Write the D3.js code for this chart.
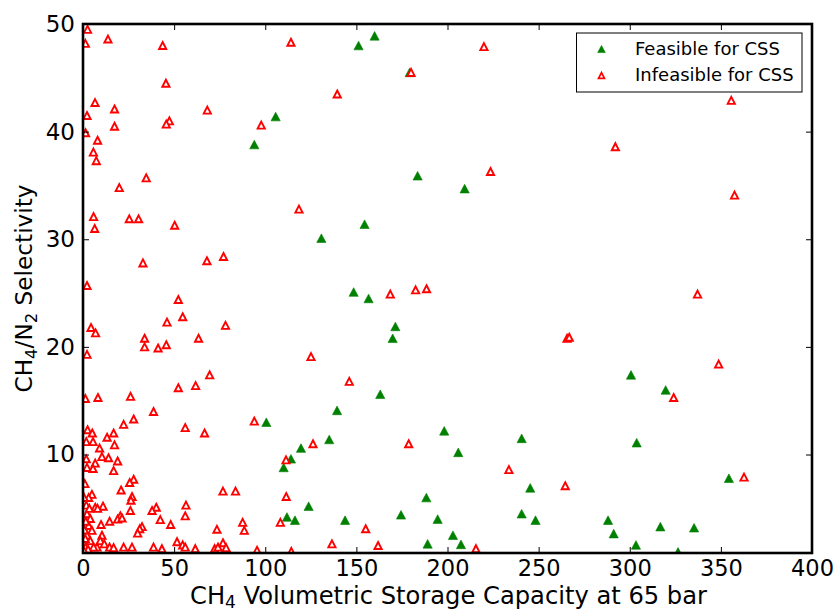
<!DOCTYPE html>
<html>
<head>
<meta charset="utf-8">
<script src="https://cdn.jsdelivr.net/npm/d3@7"></script>
<style>
  body { margin: 0; background: #fff; }
  svg { display: block; }
  text { font-family: "DejaVu Sans", sans-serif; fill: #000; }
</style>
</head>
<body>
<svg id="chart" width="837" height="612"></svg>
<script>
// Materials that are feasible for CSS: [volumetric capacity, selectivity]
const feasible = [
  [94.0, 38.8], [105.7, 41.4], [160.0, 48.9], [151.2, 48.0], [179.2, 45.5],
  [183.6, 35.9], [209.4, 34.7], [154.5, 31.4], [130.8, 30.1], [148.5, 25.1],
  [156.7, 24.5], [171.4, 21.9], [169.9, 20.8], [163.1, 15.6], [139.4, 14.1],
  [100.6, 13.0], [135.1, 11.4], [119.6, 10.6], [114.1, 9.6], [110.1, 8.8],
  [198.2, 12.2], [205.9, 10.2], [240.7, 11.5], [245.4, 6.9], [123.8, 5.2],
  [111.9, 4.2], [116.3, 3.9], [143.8, 3.9], [174.5, 4.4], [188.4, 6.0],
  [194.6, 4.0], [203.0, 2.5], [207.4, 1.65], [189.1, 1.7], [240.7, 4.5],
  [248.3, 3.9], [300.7, 17.4], [319.7, 16.0], [303.8, 11.1], [354.4, 7.8],
  [288.1, 3.9], [291.2, 2.65], [303.4, 1.6], [316.8, 3.3], [335.3, 3.2],
  [326.5, 0.95]
];

// Materials that are infeasible for CSS
const infeasible = [
  [2.5, 49.5], [1.3, 48.2], [13.7, 48.6], [43.7, 48.0], [45.5, 44.5],
  [6.6, 42.7], [17.3, 42.1], [68.2, 42.0], [2.2, 41.5], [47.4, 41.0],
  [45.7, 40.7], [17.3, 40.5], [97.8, 40.6], [1.4, 39.9], [8.0, 39.2],
  [5.7, 38.1], [7.3, 37.3], [34.7, 35.7], [19.9, 34.8],
  [114.1, 48.3], [220.0, 47.9], [180.0, 45.5], [139.5, 43.5], [223.6, 36.3], [118.5, 32.8],
  [5.8, 32.1], [6.4, 31.0], [25.4, 31.9], [30.5, 31.9], [50.3, 31.3],
  [32.9, 27.8], [68.0, 28.0], [77.1, 28.4], [2.2, 25.7], [52.3, 24.4],
  [46.1, 22.3], [54.7, 22.8], [78.2, 22.0], [4.4, 21.8], [6.9, 21.3],
  [33.8, 20.8], [33.8, 20.0], [41.2, 19.9], [45.7, 20.2], [63.4, 20.8],
  [2.2, 19.3], [69.5, 17.4], [61.8, 16.4], [52.3, 16.2], [1.3, 15.2],
  [8.2, 15.3], [26.1, 15.4],
  [168.6, 24.9], [182.5, 25.3], [188.5, 25.4], [125.1, 19.1], [146.1, 16.8],
  [265.6, 20.8], [266.8, 20.9],
  [355.7, 42.9], [292.1, 38.6], [357.5, 34.1], [337.2, 24.9], [348.8, 18.4], [324.1, 15.3],
  [126.2, 11.0], [111.4, 9.5], [178.7, 11.0], [233.7, 8.6], [111.5, 6.1],
  [108.3, 3.7], [155.1, 3.1], [136.6, 1.7], [161.9, 1.55], [215.6, 1.25],
  [114.3, 1.0], [362.7, 7.9], [264.6, 7.1],
  [56.1, 12.5], [66.7, 12.0], [94.0, 13.1], [76.8, 6.6], [83.7, 6.6],
  [56.5, 5.3], [56.1, 4.3], [48.1, 3.5], [73.5, 3.05], [87.6, 3.7],
  [88.5, 2.95], [51.6, 1.9], [54.7, 1.6], [56.1, 1.4], [61.6, 1.25],
  [72.2, 1.25], [74.1, 1.4], [76.8, 1.8], [78.5, 1.35], [95.5, 1.1],
  [38.7, 14.0], [27.8, 13.3], [22.3, 12.8], [2.5, 12.3], [5.1, 12.0],
  [13.2, 11.6], [16.8, 12.0], [1.8, 11.2], [5.5, 11.2], [17.3, 10.9],
  [9.1, 10.6], [1.8, 9.6], [10.4, 9.8], [14.0, 9.7], [19.0, 9.4],
  [6.7, 9.2], [2.2, 8.8], [5.5, 8.7], [16.8, 8.5], [27.8, 7.7],
  [25.6, 7.4], [20.9, 6.7], [4.9, 6.3], [3.1, 6.0], [26.9, 6.1],
  [26.3, 5.75], [1.8, 5.3], [6.7, 5.1], [11.0, 5.2], [8.0, 5.0],
  [26.0, 4.8], [40.2, 5.1], [37.9, 4.8], [20.5, 4.3], [19.0, 4.0],
  [14.6, 3.8], [21.4, 4.1], [42.4, 3.95], [32.4, 3.3], [31.1, 3.1],
  [30.0, 2.7], [9.9, 3.5], [2.2, 4.5], [4.0, 4.05], [3.1, 3.4],
  [4.9, 2.95], [2.2, 2.5], [4.0, 2.0], [1.3, 1.4], [10.4, 2.5],
  [9.5, 2.0], [11.7, 1.7], [7.7, 1.4], [14.6, 1.4], [16.8, 1.35],
  [22.3, 1.4], [26.9, 1.4], [38.7, 1.4], [43.3, 1.25], [5.8, 1.4],
  [1.0, 7.3], [0.8, 3.0], [1.5, 3.8], [2.8, 1.2], [0.5, 1.1],
  [3.5, 5.0], [0.6, 6.0], [1.2, 2.2]
];

const xTicks = [0, 50, 100, 150, 200, 250, 300, 350, 400];
const yTicks = [10, 20, 30, 40, 50];
const xDomain = [0, 400];
const yDomain = [0.85, 50];
const legendLabels = ["Feasible for CSS", "Infeasible for CSS"];

const GREEN = "#008000";
const RED = "#ff0000";

const plot = { left: 83, right: 812, top: 24, bottom: 553 };
const svg = d3.select("#chart");

const x = d3.scaleLinear().domain(xDomain).range([plot.left, plot.right]);
const y = d3.scaleLinear().domain(yDomain).range([plot.bottom, plot.top]);

// upward triangle centred on its bounding box
const tri = (w, h) => `M0,${-h}L${w},${h}L${-w},${h}Z`;

svg.append("defs").append("clipPath").attr("id", "plot-clip")
  .append("rect")
  .attr("x", plot.left).attr("y", plot.top)
  .attr("width", plot.right - plot.left).attr("height", plot.bottom - plot.top);

const marks = svg.append("g").attr("clip-path", "url(#plot-clip)");

marks.selectAll("path.feasible").data(feasible).join("path")
  .attr("class", "feasible")
  .attr("transform", d => `translate(${x(d[0])},${y(d[1])})`)
  .attr("d", tri(4.6, 4.3))
  .attr("fill", GREEN)
  .attr("stroke", GREEN)
  .attr("stroke-width", 0.6);

marks.selectAll("path.infeasible").data(infeasible).join("path")
  .attr("class", "infeasible")
  .attr("transform", d => `translate(${x(d[0])},${y(d[1])})`)
  .attr("d", tri(3.6, 3.5))
  .attr("fill", "#fff")
  .attr("stroke", RED)
  .attr("stroke-width", 1.9)
  .attr("stroke-linejoin", "miter");

// axes with inward ticks on all four sides
const TICK = 6;
const styleAxis = g => {
  g.select(".domain").remove();
  g.selectAll(".tick line").attr("stroke", "#000").attr("stroke-width", 1);
};

svg.append("g")
  .attr("transform", `translate(0,${plot.bottom})`)
  .call(d3.axisBottom(x).tickValues(xTicks).tickFormat(d3.format("d"))
    .tickSizeInner(-TICK).tickSizeOuter(0).tickPadding(7))
  .call(styleAxis)
  .call(g => g.selectAll("text").attr("font-size", 22.5).attr("font-family", "DejaVu Sans"));

svg.append("g")
  .attr("transform", `translate(0,${plot.top})`)
  .call(d3.axisTop(x).tickValues(xTicks).tickFormat("").tickSizeInner(-TICK).tickSizeOuter(0))
  .call(styleAxis);

svg.append("g")
  .attr("transform", `translate(${plot.left},0)`)
  .call(d3.axisLeft(y).tickValues(yTicks).tickFormat(d3.format("d"))
    .tickSizeInner(-TICK).tickSizeOuter(0).tickPadding(8))
  .call(styleAxis)
  .call(g => g.selectAll("text").attr("font-size", 23).attr("font-family", "DejaVu Sans"));

svg.append("g")
  .attr("transform", `translate(${plot.right},0)`)
  .call(d3.axisRight(y).tickValues(yTicks).tickFormat("").tickSizeInner(-TICK).tickSizeOuter(0))
  .call(styleAxis);

// frame
svg.append("rect")
  .attr("x", plot.left).attr("y", plot.top)
  .attr("width", plot.right - plot.left).attr("height", plot.bottom - plot.top)
  .attr("fill", "none").attr("stroke", "#000").attr("stroke-width", 2.6);

// axis titles with subscripts
const sub = (t, s, fs, dy) => t.append("tspan").attr("font-size", fs).attr("dy", dy).text(s);

const xt = svg.append("text")
  .attr("x", (plot.left + plot.right) / 2 + 1).attr("y", 604)
  .attr("text-anchor", "middle").attr("font-size", 24.2);
xt.append("tspan").text("CH");
sub(xt, "4", 17, 3.5);
xt.append("tspan").attr("dy", -3.5).text(" Volumetric Storage Capacity at 65 bar");

const yt = svg.append("text")
  .attr("transform", `translate(32,${(plot.top + plot.bottom) / 2}) rotate(-90)`)
  .attr("text-anchor", "middle").attr("font-size", 23.2);
yt.append("tspan").text("CH");
sub(yt, "4", 16.5, 5);
yt.append("tspan").attr("dy", -5).text("/N");
sub(yt, "2", 16.5, 5);
yt.append("tspan").attr("dy", -5).text(" Selectivity");

// legend
const lg = svg.append("g");
lg.append("rect")
  .attr("x", 576.5).attr("y", 33).attr("width", 225.5).attr("height", 59)
  .attr("fill", "#fff").attr("stroke", "#000").attr("stroke-width", 1);

const legendItems = [
  { label: legendLabels[0], fill: GREEN, stroke: GREEN, sw: 0.6, w: 3.8, h: 3.6 },
  { label: legendLabels[1], fill: "#fff", stroke: RED, sw: 1.7, w: 3.0, h: 2.9 }
];
legendItems.forEach((it, i) => {
  const cy = 49 + i * 26.5;
  lg.append("path")
    .attr("transform", `translate(601.5,${cy})`)
    .attr("d", tri(it.w, it.h))
    .attr("fill", it.fill).attr("stroke", it.stroke).attr("stroke-width", it.sw);
  lg.append("text")
    .attr("x", 635).attr("y", cy + 5.5)
    .attr("font-size", 18)
    .text(it.label);
});
</script>
</body>
</html>
